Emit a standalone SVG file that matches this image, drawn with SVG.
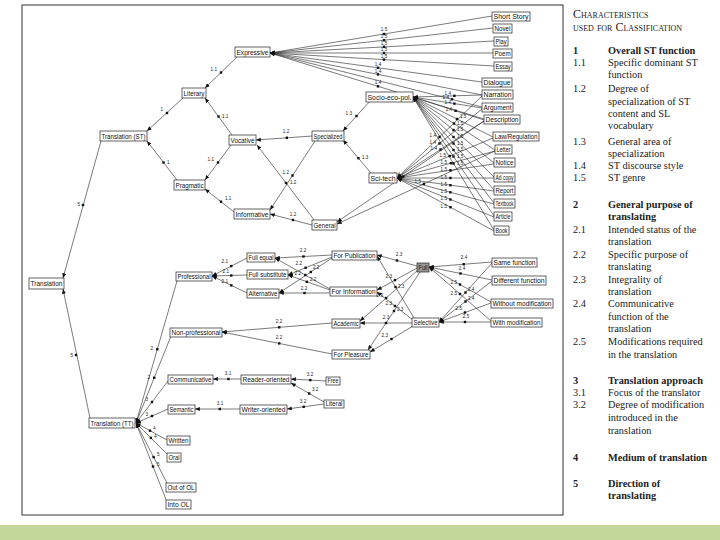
<svg xmlns="http://www.w3.org/2000/svg" width="720" height="540" viewBox="0 0 720 540">
<style>
.nd rect{fill:#fff;stroke:#222;stroke-width:0.7}
.nd text{font-family:"Liberation Sans",Arial,sans-serif;font-size:6.5px;fill:#111}
.e path{fill:none;stroke:#222;stroke-width:0.6;marker-start:url(#ar)}
.e use{fill:#111}
.lb{font-family:"Liberation Sans",Arial,sans-serif;font-size:4.6px;fill:#222}
.lg{font-family:"Liberation Serif","Times New Roman",serif;font-size:10.3px;fill:#222}
.lg .b{font-weight:bold}
.lg .h{font-variant:small-caps;font-size:12px}
</style>
<defs>
<marker id="ar" viewBox="0 0 6 5" refX="6" refY="2.5" markerWidth="5" markerHeight="4" markerUnits="userSpaceOnUse" orient="auto-start-reverse"><path d="M0,0 L6,2.5 L0,5 z" fill="#111"/></marker>
<rect id="sq" x="-1.2" y="-1.2" width="2.4" height="2.4"/>
</defs>
<rect width="720" height="540" fill="#fff"/>
<rect x="22" y="5" width="541" height="510" fill="none" stroke="#333" stroke-width="1"/>
<rect x="0" y="525" width="720" height="15" fill="#c4d79b"/>

<g id="connectors" class="e">
<path d="M63,278 L101,141"/><use href="#sq" x="83" y="205"/>
<path d="M147,131 L183,98"/><use href="#sq" x="167" y="113"/>
<path d="M147,141 L177,180"/><use href="#sq" x="163.5" y="162.5"/>
<path d="M205,88 L237,57"/><use href="#sq" x="221" y="72.5"/>
<path d="M205,98 L232,135"/><use href="#sq" x="218.5" y="116.5"/>
<path d="M205,180 L231,145"/><use href="#sq" x="218" y="162.5"/>
<path d="M205,189 L234,212"/><use href="#sq" x="221" y="201.7"/>
<path d="M256,140 L312,136"/><use href="#sq" x="286.8" y="137.8"/>
<path d="M257,145 L315,221"/><use href="#sq" x="286" y="183"/>
<path d="M270,210 L315,141"/><use href="#sq" x="292.5" y="175.5"/>
<path d="M270,214 L312,225"/><use href="#sq" x="293" y="220"/>
<path d="M343,131 L370,101"/><use href="#sq" x="356.5" y="116"/>
<path d="M343,140 L371,173"/><use href="#sq" x="358.4" y="158.2"/>
<path d="M270,53 L492,16"/><use href="#sq" x="384" y="34"/>
<path d="M270,53 L493,28"/><use href="#sq" x="384" y="40.2"/>
<path d="M270,53 L494,41"/><use href="#sq" x="384" y="46.8"/>
<path d="M270,53 L493,53"/><use href="#sq" x="384" y="53"/>
<path d="M270,53 L494,66"/><use href="#sq" x="384" y="59.6"/>
<path d="M270,53 L482,82"/><use href="#sq" x="378" y="67.8"/>
<path d="M270,53 L482,95"/><use href="#sq" x="378" y="74.4"/>
<path d="M270,53 L482,107"/><use href="#sq" x="452" y="99.3"/>
<path d="M270,53 L484,119"/><use href="#sq" x="378" y="86.3"/>
<path d="M413,97 L482,95"/><use href="#sq" x="454.4" y="95.8"/>
<path d="M413,97 L482,108"/><use href="#sq" x="454.4" y="103.6"/>
<path d="M413,97 L484,120"/><use href="#sq" x="455.6" y="110.8"/>
<path d="M413,97 L493,137"/><use href="#sq" x="457" y="119"/>
<path d="M413,97 L495,150"/><use href="#sq" x="454" y="123.5"/>
<path d="M413,97 L494,163"/><use href="#sq" x="453.5" y="130"/>
<path d="M413,97 L494,177"/><use href="#sq" x="453.5" y="137"/>
<path d="M413,97 L494,190"/><use href="#sq" x="453.5" y="143.5"/>
<path d="M413,97 L494,203"/><use href="#sq" x="453.5" y="150"/>
<path d="M413,97 L494,216"/><use href="#sq" x="453.5" y="156.5"/>
<path d="M413,97 L494,230"/><use href="#sq" x="453.5" y="163.5"/>
<path d="M397,178 L482,96"/><use href="#sq" x="439.5" y="137"/>
<path d="M397,178 L482,109"/><use href="#sq" x="439.5" y="143.5"/>
<path d="M397,178 L484,121"/><use href="#sq" x="440.5" y="149.5"/>
<path d="M397,178 L493,138"/><use href="#sq" x="449.8" y="156"/>
<path d="M397,178 L495,151"/><use href="#sq" x="450.9" y="163.2"/>
<path d="M397,178 L494,164"/><use href="#sq" x="450.4" y="170.3"/>
<path d="M397,178 L494,178"/><use href="#sq" x="450.4" y="178"/>
<path d="M397,178 L494,191"/><use href="#sq" x="450.4" y="185.2"/>
<path d="M397,178 L494,204"/><use href="#sq" x="450.4" y="192.3"/>
<path d="M397,178 L494,217"/><use href="#sq" x="450.4" y="199.5"/>
<path d="M397,178 L494,231"/><use href="#sq" x="450.4" y="207.2"/>
<path d="M337,222 L484,121"/><use href="#sq" x="403.2" y="176.6"/>
<path d="M337,224 L495,151"/><use href="#sq" x="423.9" y="183.9"/>
<path d="M63,289 L90,418"/><use href="#sq" x="76" y="355"/>
<path d="M136,423 L177,281"/><use href="#sq" x="157.3" y="349.2"/>
<path d="M136,423 L171,336"/><use href="#sq" x="154.2" y="377.8"/>
<path d="M136,423 L168,381"/><use href="#sq" x="152" y="402"/>
<path d="M136,423 L168,409"/><use href="#sq" x="152" y="416"/>
<path d="M136,423 L167,440"/><use href="#sq" x="150" y="430.7"/>
<path d="M136,423 L169,456"/><use href="#sq" x="150.9" y="437.9"/>
<path d="M136,423 L168,485"/><use href="#sq" x="153.6" y="457.1"/>
<path d="M136,423 L167,502"/><use href="#sq" x="153" y="466.5"/>
<path d="M212,276 L247,258"/><use href="#sq" x="231.3" y="266.1"/>
<path d="M212,276 L247,275"/><use href="#sq" x="231.3" y="275.5"/>
<path d="M212,276 L247,293"/><use href="#sq" x="231.3" y="285.4"/>
<path d="M275,258 L332,255"/><use href="#sq" x="303.5" y="256.5"/>
<path d="M275,258 L330,289"/><use href="#sq" x="305.3" y="275"/>
<path d="M288,275 L332,257"/><use href="#sq" x="305.6" y="267.8"/>
<path d="M288,275 L330,290"/><use href="#sq" x="306.9" y="281.8"/>
<path d="M279,293 L332,258"/><use href="#sq" x="310.8" y="272"/>
<path d="M279,293 L330,293"/><use href="#sq" x="304.5" y="293"/>
<path d="M222,332 L332,323"/><use href="#sq" x="279.2" y="327.3"/>
<path d="M222,332 L332,354"/><use href="#sq" x="279.2" y="343.4"/>
<path d="M377,255 L417,266"/><use href="#sq" x="397" y="260.5"/>
<path d="M377,290 L417,268"/><use href="#sq" x="395" y="280.1"/>
<path d="M360,321 L418,270"/><use href="#sq" x="386.1" y="298"/>
<path d="M368,350 L420,272"/><use href="#sq" x="394" y="311"/>
<path d="M377,256 L414,318"/><use href="#sq" x="395.5" y="287"/>
<path d="M377,292 L413,320"/><use href="#sq" x="395" y="306"/>
<path d="M360,323 L412,323"/><use href="#sq" x="386" y="323"/>
<path d="M370,352 L413,326"/><use href="#sq" x="391.5" y="339"/>
<path d="M429,267 L492,262"/><use href="#sq" x="463.7" y="264.2"/>
<path d="M429,267 L492,280"/><use href="#sq" x="460.5" y="273.5"/>
<path d="M429,267 L491,302"/><use href="#sq" x="460" y="284.5"/>
<path d="M429,267 L491,321"/><use href="#sq" x="460" y="294"/>
<path d="M439,322 L492,263"/><use href="#sq" x="465.5" y="292.5"/>
<path d="M439,322 L492,281"/><use href="#sq" x="465.5" y="301.5"/>
<path d="M439,322 L491,303"/><use href="#sq" x="465" y="312.5"/>
<path d="M439,322 L491,322"/><use href="#sq" x="465" y="322"/>
<path d="M213,379 L241,379"/><use href="#sq" x="228.4" y="379"/>
<path d="M195,409 L240,409"/><use href="#sq" x="219.8" y="409"/>
<path d="M291,379 L326,381"/><use href="#sq" x="310.3" y="380.1"/>
<path d="M291,383 L324,402"/><use href="#sq" x="309.2" y="393.5"/>
<path d="M287,409 L324,404"/><use href="#sq" x="303.7" y="406.8"/>
</g>

<g id="edge-labels" class="lb">
<text x="80" y="206" text-anchor="end">5</text>
<text x="73" y="357" text-anchor="end">5</text>
<text x="163" y="111" text-anchor="end">1</text>
<text x="167" y="164">1</text>
<text x="217" y="71" text-anchor="end">1.1</text>
<text x="222" y="118">1.1</text>
<text x="214" y="161" text-anchor="end">1.1</text>
<text x="225" y="200">1.1</text>
<text x="286" y="133" text-anchor="middle">1.2</text>
<text x="290" y="184">1.2</text>
<text x="289" y="174" text-anchor="end">1.2</text>
<text x="293" y="216" text-anchor="middle">1.2</text>
<text x="352" y="115" text-anchor="end">1.3</text>
<text x="362" y="159">1.3</text>
<text x="384" y="31" text-anchor="middle">1.5</text>
<text x="384" y="38" text-anchor="middle">1.5</text>
<text x="384" y="44.5" text-anchor="middle">1.5</text>
<text x="384" y="51" text-anchor="middle">1.5</text>
<text x="384" y="58" text-anchor="middle">1.5</text>
<text x="378" y="65.5" text-anchor="middle">1.4</text>
<text x="378" y="72.5" text-anchor="middle">1.4</text>
<text x="378" y="84" text-anchor="middle">1.4</text>
<text x="449" y="99" text-anchor="end">1.4</text>
<text x="451" y="95" text-anchor="end">1.4</text>
<text x="451" y="104" text-anchor="end">1.4</text>
<text x="452" y="111" text-anchor="end">1.4</text>
<text x="460" y="118">1.5</text>
<text x="457" y="125">1.5</text>
<text x="457" y="131">1.5</text>
<text x="457" y="138">1.5</text>
<text x="457" y="144.5">1.5</text>
<text x="457" y="151">1.5</text>
<text x="457" y="157.5">1.5</text>
<text x="457" y="164.5">1.5</text>
<text x="436" y="137" text-anchor="end">1.4</text>
<text x="436" y="144" text-anchor="end">1.4</text>
<text x="437" y="150" text-anchor="end">1.4</text>
<text x="446" y="157" text-anchor="end">1.5</text>
<text x="447" y="164" text-anchor="end">1.5</text>
<text x="447" y="171" text-anchor="end">1.5</text>
<text x="447" y="179" text-anchor="end">1.5</text>
<text x="447" y="186" text-anchor="end">1.5</text>
<text x="447" y="193" text-anchor="end">1.5</text>
<text x="447" y="200" text-anchor="end">1.5</text>
<text x="447" y="208" text-anchor="end">1.5</text>
<text x="400" y="176" text-anchor="end">1.4</text>
<text x="421" y="183" text-anchor="end">1.5</text>
<text x="153" y="350" text-anchor="end">2</text>
<text x="150" y="379" text-anchor="end">2</text>
<text x="148" y="401" text-anchor="end">3</text>
<text x="148" y="416" text-anchor="end">3</text>
<text x="153" y="430">4</text>
<text x="154" y="438">4</text>
<text x="157" y="456">5</text>
<text x="157" y="466">5</text>
<text x="228" y="263" text-anchor="end">2.1</text>
<text x="229" y="273" text-anchor="end">2.1</text>
<text x="228" y="283" text-anchor="end">2.1</text>
<text x="303" y="252" text-anchor="middle">2.2</text>
<text x="302" y="265" text-anchor="end">2.2</text>
<text x="313" y="269">2.2</text>
<text x="301" y="275" text-anchor="end">2.2</text>
<text x="310" y="281">2.2</text>
<text x="304" y="290" text-anchor="middle">2.2</text>
<text x="279" y="323" text-anchor="middle">2.2</text>
<text x="279" y="339" text-anchor="middle">2.2</text>
<text x="399" y="256" text-anchor="middle">2.3</text>
<text x="392" y="278" text-anchor="end">2.3</text>
<text x="383" y="297" text-anchor="end">2.3</text>
<text x="397" y="311">2.3</text>
<text x="398" y="288">2.3</text>
<text x="392" y="305" text-anchor="end">2.3</text>
<text x="386" y="319" text-anchor="middle">2.3</text>
<text x="388" y="337" text-anchor="end">2.3</text>
<text x="464" y="259" text-anchor="middle">2.4</text>
<text x="462" y="270" text-anchor="middle">2.4</text>
<text x="457" y="284" text-anchor="end">2.5</text>
<text x="457" y="295" text-anchor="end">2.5</text>
<text x="468" y="291">2.4</text>
<text x="468" y="300">2.4</text>
<text x="462" y="310" text-anchor="end">2.5</text>
<text x="466" y="318" text-anchor="middle">2.5</text>
<text x="228" y="375" text-anchor="middle">3.1</text>
<text x="220" y="405" text-anchor="middle">3.1</text>
<text x="310" y="376" text-anchor="middle">3.2</text>
<text x="312" y="391">3.2</text>
<text x="303" y="403" text-anchor="middle">3.2</text>
</g>

<g id="n-translation" class="nd"><rect x="29" y="278" width="35" height="11"/><text x="30.5" y="286.3" textLength="32" lengthAdjust="spacingAndGlyphs">Translation</text></g>
<g id="n-translation-st" class="nd"><rect x="100" y="131" width="47" height="10"/><text x="101.5" y="138.6" textLength="44" lengthAdjust="spacingAndGlyphs">Translation (ST)</text></g>
<g id="n-literary" class="nd"><rect x="182" y="88" width="24" height="10"/><text x="183.5" y="95.6" textLength="21" lengthAdjust="spacingAndGlyphs">Literary</text></g>
<g id="n-pragmatic" class="nd"><rect x="174" y="180" width="31" height="10"/><text x="175.5" y="187.6" textLength="28" lengthAdjust="spacingAndGlyphs">Pragmatic</text></g>
<g id="n-expressive" class="nd"><rect x="235" y="47" width="35" height="10"/><text x="236.5" y="54.6" textLength="32" lengthAdjust="spacingAndGlyphs">Expressive</text></g>
<g id="n-vocative" class="nd"><rect x="229" y="135" width="27" height="10"/><text x="230.5" y="142.6" textLength="24" lengthAdjust="spacingAndGlyphs">Vocative</text></g>
<g id="n-informative" class="nd"><rect x="234" y="209" width="36" height="10"/><text x="235.5" y="216.6" textLength="33" lengthAdjust="spacingAndGlyphs">Informative</text></g>
<g id="n-specialized" class="nd"><rect x="312" y="131" width="32" height="10"/><text x="313.5" y="138.6" textLength="29" lengthAdjust="spacingAndGlyphs">Specialized</text></g>
<g id="n-general" class="nd"><rect x="312" y="220" width="25" height="10"/><text x="313.5" y="227.6" textLength="22" lengthAdjust="spacingAndGlyphs">General</text></g>
<g id="n-socio" class="nd"><rect x="366" y="92" width="47" height="10"/><text x="367.5" y="99.6" textLength="44" lengthAdjust="spacingAndGlyphs">Socio-eco-pol.</text></g>
<g id="n-scitech" class="nd"><rect x="369" y="173" width="28" height="10"/><text x="370.5" y="180.6" textLength="25" lengthAdjust="spacingAndGlyphs">Sci-tech</text></g>
<g id="n-short-story" class="nd"><rect x="492" y="12" width="38" height="9"/><text x="493.5" y="19" textLength="35" lengthAdjust="spacingAndGlyphs">Short Story</text></g>
<g id="n-novel" class="nd"><rect x="493" y="24" width="19" height="9"/><text x="494.5" y="31" textLength="16" lengthAdjust="spacingAndGlyphs">Novel</text></g>
<g id="n-play" class="nd"><rect x="494" y="37" width="14" height="9"/><text x="495.5" y="44" textLength="11" lengthAdjust="spacingAndGlyphs">Play</text></g>
<g id="n-poem" class="nd"><rect x="493" y="49" width="19" height="9"/><text x="494.5" y="56" textLength="16" lengthAdjust="spacingAndGlyphs">Poem</text></g>
<g id="n-essay" class="nd"><rect x="494" y="62" width="18" height="9"/><text x="495.5" y="69" textLength="15" lengthAdjust="spacingAndGlyphs">Essay</text></g>
<g id="n-dialogue" class="nd"><rect x="482" y="78" width="30" height="9"/><text x="483.5" y="85" textLength="27" lengthAdjust="spacingAndGlyphs">Dialogue</text></g>
<g id="n-narration" class="nd"><rect x="482" y="90" width="31" height="9"/><text x="483.5" y="97" textLength="28" lengthAdjust="spacingAndGlyphs">Narration</text></g>
<g id="n-argument" class="nd"><rect x="482" y="103" width="31" height="9"/><text x="483.5" y="110" textLength="28" lengthAdjust="spacingAndGlyphs">Argument</text></g>
<g id="n-description" class="nd"><rect x="484" y="115" width="36" height="9"/><text x="485.5" y="122" textLength="33" lengthAdjust="spacingAndGlyphs">Description</text></g>
<g id="n-law" class="nd"><rect x="493" y="132" width="46" height="9"/><text x="494.5" y="139" textLength="43" lengthAdjust="spacingAndGlyphs">Law/Regulation</text></g>
<g id="n-letter" class="nd"><rect x="495" y="145" width="17" height="9"/><text x="496.5" y="152" textLength="14" lengthAdjust="spacingAndGlyphs">Letter</text></g>
<g id="n-notice" class="nd"><rect x="494" y="158" width="21" height="9"/><text x="495.5" y="165" textLength="18" lengthAdjust="spacingAndGlyphs">Notice</text></g>
<g id="n-adcopy" class="nd"><rect x="494" y="173" width="21" height="9"/><text x="495.5" y="180" textLength="18" lengthAdjust="spacingAndGlyphs">Ad copy</text></g>
<g id="n-report" class="nd"><rect x="494" y="186" width="21" height="9"/><text x="495.5" y="193" textLength="18" lengthAdjust="spacingAndGlyphs">Report</text></g>
<g id="n-textbook" class="nd"><rect x="494" y="199" width="21" height="9"/><text x="495.5" y="206" textLength="18" lengthAdjust="spacingAndGlyphs">Textbook</text></g>
<g id="n-article" class="nd"><rect x="494" y="212" width="18" height="9"/><text x="495.5" y="219" textLength="15" lengthAdjust="spacingAndGlyphs">Article</text></g>
<g id="n-book" class="nd"><rect x="494" y="226" width="15" height="9"/><text x="495.5" y="233" textLength="12" lengthAdjust="spacingAndGlyphs">Book</text></g>

<g id="n-full-equal" class="nd"><rect x="247" y="253" width="28" height="9"/><text x="248.5" y="260" textLength="25" lengthAdjust="spacingAndGlyphs">Full equal</text></g>
<g id="n-full-substitute" class="nd"><rect x="247" y="270" width="41" height="9"/><text x="248.5" y="277" textLength="38" lengthAdjust="spacingAndGlyphs">Full substitute</text></g>
<g id="n-alternative" class="nd"><rect x="247" y="289" width="32" height="9"/><text x="248.5" y="296" textLength="29" lengthAdjust="spacingAndGlyphs">Alternative</text></g>
<g id="n-professional" class="nd"><rect x="176" y="272" width="36" height="9"/><text x="177.5" y="279" textLength="33" lengthAdjust="spacingAndGlyphs">Professional</text></g>
<g id="n-non-professional" class="nd"><rect x="170" y="328" width="52" height="9"/><text x="171.5" y="335" textLength="49" lengthAdjust="spacingAndGlyphs">Non-professional</text></g>
<g id="n-communicative" class="nd"><rect x="168" y="375" width="45" height="9"/><text x="169.5" y="382" textLength="42" lengthAdjust="spacingAndGlyphs">Communicative</text></g>
<g id="n-semantic" class="nd"><rect x="168" y="405" width="27" height="9"/><text x="169.5" y="412" textLength="24" lengthAdjust="spacingAndGlyphs">Semantic</text></g>
<g id="n-written" class="nd"><rect x="167" y="436" width="23" height="9"/><text x="168.5" y="443" textLength="20" lengthAdjust="spacingAndGlyphs">Written</text></g>
<g id="n-oral" class="nd"><rect x="167" y="453" width="14" height="9"/><text x="168.5" y="460" textLength="11" lengthAdjust="spacingAndGlyphs">Oral</text></g>
<g id="n-out-of-ol" class="nd"><rect x="166" y="483" width="30" height="9"/><text x="167.5" y="490" textLength="27" lengthAdjust="spacingAndGlyphs">Out of OL</text></g>
<g id="n-into-ol" class="nd"><rect x="166" y="500" width="25" height="9"/><text x="167.5" y="507" textLength="22" lengthAdjust="spacingAndGlyphs">Into OL</text></g>
<g id="n-translation-tt" class="nd"><rect x="89" y="418" width="46" height="10"/><text x="90.5" y="425.6" textLength="43" lengthAdjust="spacingAndGlyphs">Translation (TT)</text></g>
<g id="n-reader" class="nd"><rect x="241" y="375" width="50" height="9"/><text x="242.5" y="382" textLength="47" lengthAdjust="spacingAndGlyphs">Reader-oriented</text></g>
<g id="n-writer" class="nd"><rect x="240" y="405" width="47" height="9"/><text x="241.5" y="412" textLength="44" lengthAdjust="spacingAndGlyphs">Writer-oriented</text></g>
<g id="n-free" class="nd"><rect x="326" y="377" width="14" height="8"/><text x="327.5" y="383.4" textLength="11" lengthAdjust="spacingAndGlyphs">Free</text></g>
<g id="n-literal" class="nd"><rect x="324" y="400" width="20" height="8"/><text x="325.5" y="406.4" textLength="17" lengthAdjust="spacingAndGlyphs">Literal</text></g>
<g id="n-for-publication" class="nd"><rect x="332" y="251" width="45" height="9"/><text x="333.5" y="258" textLength="42" lengthAdjust="spacingAndGlyphs">For Publication</text></g>
<g id="n-for-information" class="nd"><rect x="330" y="287" width="47" height="9"/><text x="331.5" y="294" textLength="44" lengthAdjust="spacingAndGlyphs">For Information</text></g>
<g id="n-academic" class="nd"><rect x="332" y="319" width="28" height="9"/><text x="333.5" y="326" textLength="25" lengthAdjust="spacingAndGlyphs">Academic</text></g>
<g id="n-for-pleasure" class="nd"><rect x="332" y="350" width="38" height="9"/><text x="333.5" y="357" textLength="35" lengthAdjust="spacingAndGlyphs">For Pleasure</text></g>
<g id="n-full" class="nd"><rect x="417" y="263" width="12" height="9" style="fill:#999"/><text x="418.5" y="270" textLength="9" lengthAdjust="spacingAndGlyphs">Full</text></g>
<g id="n-selective" class="nd"><rect x="412" y="318" width="27" height="9"/><text x="413.5" y="325" textLength="24" lengthAdjust="spacingAndGlyphs">Selective</text></g>
<g id="n-same-function" class="nd"><rect x="492" y="258" width="45" height="9"/><text x="493.5" y="265" textLength="42" lengthAdjust="spacingAndGlyphs">Same function</text></g>
<g id="n-different-function" class="nd"><rect x="492" y="276" width="54" height="9"/><text x="493.5" y="283" textLength="51" lengthAdjust="spacingAndGlyphs">Different function</text></g>
<g id="n-without-modification" class="nd"><rect x="491" y="299" width="62" height="9"/><text x="492.5" y="306" textLength="59" lengthAdjust="spacingAndGlyphs">Without modification</text></g>
<g id="n-with-modification" class="nd"><rect x="491" y="318" width="51" height="9"/><text x="492.5" y="325" textLength="48" lengthAdjust="spacingAndGlyphs">With modification</text></g>

<g id="legend" class="lg">
<text x="573" y="18" class="h">Characteristics</text>
<text x="573" y="31" class="h">used for Classification</text>
<text x="573" y="54" class="b">1</text><text x="608" y="54" class="b">Overall ST function</text>
<text x="573" y="66">1.1</text><text x="608" y="66">Specific dominant ST</text>
<text x="608" y="78">function</text>
<text x="573" y="92">1.2</text><text x="608" y="92">Degree of</text>
<text x="608" y="105">specialization of ST</text>
<text x="608" y="117">content and SL</text>
<text x="608" y="129">vocabulary</text>
<text x="573" y="145">1.3</text><text x="608" y="145">General area of</text>
<text x="608" y="157">specialization</text>
<text x="573" y="169">1.4</text><text x="608" y="169">ST discourse style</text>
<text x="573" y="181">1.5</text><text x="608" y="181">ST genre</text>
<text x="573" y="208" class="b">2</text><text x="608" y="208" class="b">General purpose of</text>
<text x="608" y="220" class="b">translating</text>
<text x="573" y="233">2.1</text><text x="608" y="233">Intended status of the</text>
<text x="608" y="245">translation</text>
<text x="573" y="258">2.2</text><text x="608" y="258">Specific purpose of</text>
<text x="608" y="270">translating</text>
<text x="573" y="283">2.3</text><text x="608" y="283">Integrality of</text>
<text x="608" y="295">translation</text>
<text x="573" y="307">2.4</text><text x="608" y="307">Communicative</text>
<text x="608" y="320">function of the</text>
<text x="608" y="332">translation</text>
<text x="573" y="345">2.5</text><text x="608" y="345">Modifications required</text>
<text x="608" y="358">in the translation</text>
<text x="573" y="384" class="b">3</text><text x="608" y="384" class="b">Translation approach</text>
<text x="573" y="396">3.1</text><text x="608" y="396">Focus of the translator</text>
<text x="573" y="408">3.2</text><text x="608" y="408">Degree of modification</text>
<text x="608" y="421">introduced in the</text>
<text x="608" y="434">translation</text>
<text x="573" y="461" class="b">4</text><text x="608" y="461" class="b">Medium of translation</text>
<text x="573" y="487" class="b">5</text><text x="608" y="487" class="b">Direction of</text>
<text x="608" y="499" class="b">translating</text>
</g>
</svg>
